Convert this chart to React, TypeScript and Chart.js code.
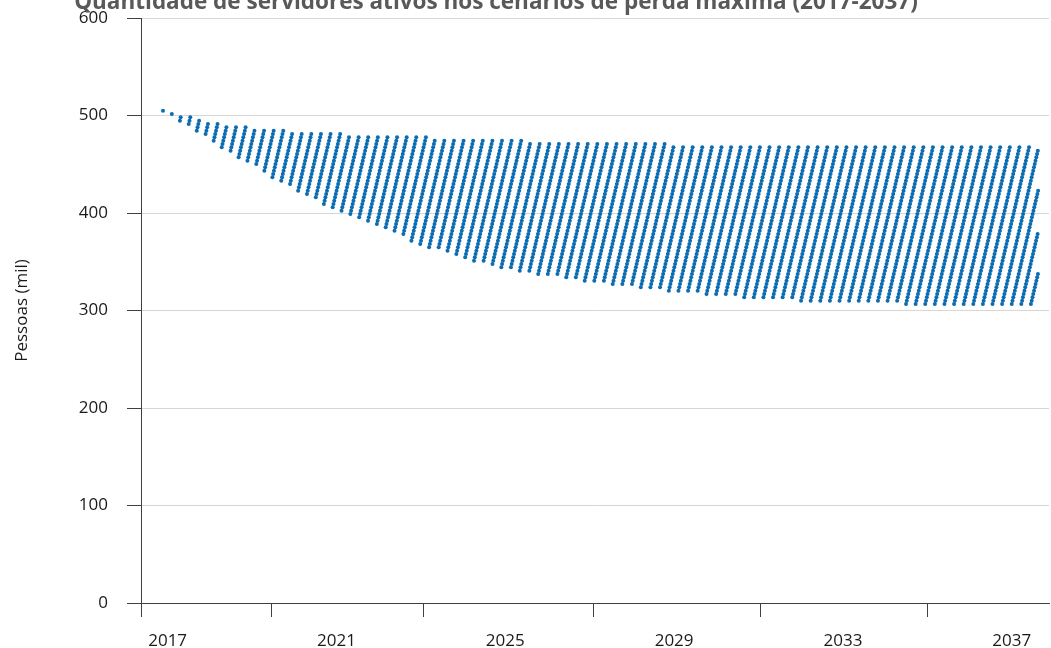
import React, { useEffect, useRef } from "react";
import { Chart, registerables } from "chart.js";

Chart.register(...registerables);

const titleText = "Quantidade de servidores ativos nos cenários de perda máxima (2017-2037)";
const yAxisTitle = "Pessoas (mil)";

// x-axis labels (years) and tick-mark positions (years)
const xLabelYears = [2017, 2021, 2025, 2029, 2033, 2037];
const xTickMarkYears = [2016.369, 2019.443, 2023.044, 2027.081, 2031.037, 2034.995];
const yTickValues = [0, 100, 200, 300, 400, 500, 600];

// envelope of the scenario cloud (thousand persons)
const envelopeYears = [2016.89, 2017.12, 2017.33, 2017.55, 2017.76, 2018.0, 2018.25, 2018.5, 2018.75, 2019.0, 2019.5, 2020.0, 2020.5, 2021.0, 2022.0, 2023.0, 2024.0, 2025.0, 2026.0, 2027.0, 2028.0, 2029.0, 2030.0, 2031.0, 2032.0, 2033.0, 2034.0, 2035.0, 2036.0, 2037.0, 2037.7];
const topValues = [505, 503, 500.5, 498, 495.5, 493, 491, 490, 488.5, 487.5, 485.3, 483.5, 482, 481, 479, 477.5, 476, 474.5, 473, 472, 471, 470, 469, 468.5, 468, 467.6, 467.6, 467.6, 467.6, 467.6, 467.6];
const bottomValues = [505, 499, 493.5, 488, 482.5, 476, 468, 462, 455.5, 450, 436.5, 424.5, 414, 403, 386, 368, 354, 343.5, 336, 330.5, 325, 320, 316, 313, 310.5, 309, 307.5, 306.8, 306.5, 306.5, 306.5];

// dot lattice of the cloud
const firstDotYear = 2016.89;
const lastDotYear = 2037.63;
const columnStepYears = 0.2277;
const rowShiftYears = 0.0184;
const firstRowValue = 505;
const rowStepValue = 3.42;
const rowCount = 60;

const X_MIN = 2016.3688;
const X_MAX = 2037.882;
const FONT = '"Open Sans", "Noto Sans", sans-serif';

function envelopeAt(values: number[], x: number): number {
  if (x <= envelopeYears[0]) return values[0];
  for (let i = 1; i < envelopeYears.length; i++) {
    if (x <= envelopeYears[i]) {
      const t = (x - envelopeYears[i - 1]) / (envelopeYears[i] - envelopeYears[i - 1]);
      return values[i - 1] + t * (values[i] - values[i - 1]);
    }
  }
  return values[values.length - 1];
}

function buildPoints() {
  const pts: { x: number; y: number }[] = [];
  for (let r = 0; r < rowCount; r++) {
    const v = firstRowValue - r * rowStepValue;
    const phase = firstDotYear - r * rowShiftYears;
    for (let c = 0; ; c++) {
      const x = phase + c * columnStepYears;
      if (x > lastDotYear + 1e-9) break;
      if (x < firstDotYear - 1e-6) continue;
      const top = envelopeAt(topValues, x);
      const bot = envelopeAt(bottomValues, x);
      if (v <= top + 0.6 && v >= bot - 0.6) pts.push({ x, y: v });
    }
  }
  return pts;
}

const decorPlugin = {
  id: "decor",
  afterDraw(chart: any) {
    const { ctx, chartArea, scales } = chart;
    ctx.save();
    ctx.strokeStyle = "#404040";
    ctx.lineWidth = 1;
    for (const yr of xTickMarkYears) {
      const px = Math.round(scales.x.getPixelForValue(yr)) + 0.5;
      ctx.beginPath();
      ctx.moveTo(px, chartArea.bottom);
      ctx.lineTo(px, chartArea.bottom + 14);
      ctx.stroke();
    }
    ctx.fillStyle = "#595959";
    ctx.font = `bold 22.5px ${FONT}`;
    ctx.textAlign = "center";
    ctx.textBaseline = "alphabetic";
    ctx.fillText(titleText, 496, 9);
    ctx.restore();
  },
};

export default function App() {
  const ref = useRef<HTMLCanvasElement | null>(null);
  useEffect(() => {
    if (!ref.current) return;
    const chart = new Chart(ref.current, {
      type: "scatter",
      data: {
        datasets: [
          {
            data: buildPoints(),
            backgroundColor: "#0b6cb2",
            borderWidth: 0,
            pointRadius: 2.0,
            pointHoverRadius: 2.0,
          },
        ],
      },
      options: {
        animation: false,
        responsive: false,
        devicePixelRatio: 1,
        events: [],
        layout: { padding: { top: 18, right: 0, bottom: 0, left: 0 } },
        plugins: { legend: { display: false }, tooltip: { enabled: false }, title: { display: false } },
        scales: {
          x: {
            type: "linear",
            min: X_MIN,
            max: X_MAX,
            afterBuildTicks: (s: any) => {
              s.ticks = xLabelYears.map((v) => ({ value: v }));
            },
            afterFit: (s: any) => {
              s.height = 45;
              s.paddingLeft = 0;
              s.paddingRight = 0;
            },
            grid: { display: true, drawOnChartArea: false, drawTicks: true, tickLength: 14, tickColor: "rgba(0,0,0,0)" },
            border: { display: true, color: "#404040", width: 1 },
            ticks: {
              font: { family: FONT, size: 17 },
              color: "#1a1a1a",
              padding: 14,
              maxRotation: 0,
              autoSkip: false,
              callback: (v: any) => String(v),
            },
          },
          y: {
            min: 0,
            max: 600,
            afterBuildTicks: (s: any) => {
              s.ticks = yTickValues.map((v) => ({ value: v }));
            },
            afterFit: (s: any) => {
              s.width = 141;
              s.paddingTop = 0;
              s.paddingBottom = 0;
            },
            grid: {
              color: (c: any) => (c.tick && c.tick.value === 0 ? "#404040" : "#d6d6d6"),
              tickColor: "#404040",
              tickLength: 14,
              lineWidth: 1,
            },
            border: { display: true, color: "#404040", width: 1 },
            ticks: { font: { family: FONT, size: 17 }, color: "#1a1a1a", padding: 19 },
            title: {
              display: true,
              text: yAxisTitle,
              font: { family: FONT, size: 17 },
              color: "#1a1a1a",
              padding: { top: 12, bottom: 0 },
            },
          },
        },
      },
      plugins: [decorPlugin],
    });
    return () => chart.destroy();
  }, []);
  return (
    <div style={{ position: "fixed", left: 0, top: 0, width: 1051, height: 648, background: "#fff" }}>
      <canvas ref={ref} width={1051} height={648} style={{ display: "block" }} />
    </div>
  );
}
